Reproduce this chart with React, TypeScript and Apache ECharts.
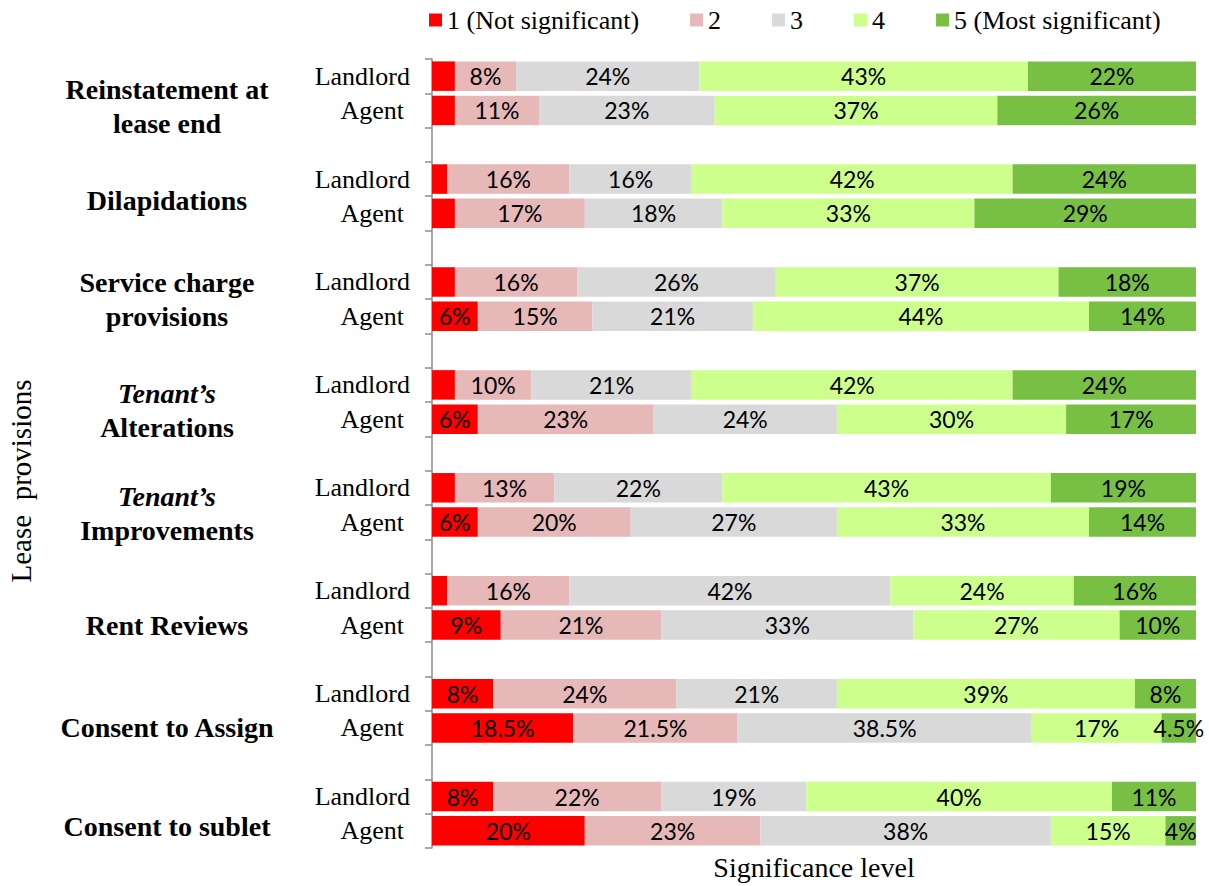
import React, { useEffect, useRef } from "react";
import * as echarts from "echarts";

// Provision groups (top to bottom)
const groups = [
  "Reinstatement at lease end",
  "Dilapidations",
  "Service charge provisions",
  "Tenant's Alterations",
  "Tenant's Improvements",
  "Rent Reviews",
  "Consent to Assign",
  "Consent to sublet",
];

const levelNames = [
  "1 (Not significant)",
  "2",
  "3",
  "4",
  "5 (Most significant)",
];

// Percentages per significance level, one value per group (Landlord rows)
const landlordLevel1 = [3, 2, 3, 3, 3, 2, 8, 8];
const landlordLevel2 = [8, 16, 16, 10, 13, 16, 24, 22];
const landlordLevel3 = [24, 16, 26, 21, 22, 42, 21, 19];
const landlordLevel4 = [43, 42, 37, 42, 43, 24, 39, 40];
const landlordLevel5 = [22, 24, 18, 24, 19, 16, 8, 11];

// Agent rows
const agentLevel1 = [3, 3, 6, 6, 6, 9, 18.5, 20];
const agentLevel2 = [11, 17, 15, 23, 20, 21, 21.5, 23];
const agentLevel3 = [23, 18, 21, 24, 27, 33, 38.5, 38];
const agentLevel4 = [37, 33, 44, 30, 33, 27, 17, 15];
const agentLevel5 = [26, 29, 14, 17, 14, 10, 4.5, 4];

const colors = ["#FF0000", "#E6B9B8", "#D9D9D9", "#CCFF8C", "#77C043"];

// layout helpers (positions of the group captions on the row scale)
const groupLabelPos = [0.875, 3.625, 6.5, 9.75, 12.75, 16, 19, 21.875];

const landlordLevels = [landlordLevel1, landlordLevel2, landlordLevel3, landlordLevel4, landlordLevel5];
const agentLevels = [agentLevel1, agentLevel2, agentLevel3, agentLevel4, agentLevel5];

const SERIF = "Liberation Serif";

function groupCaption(name: string): string {
  if (name.startsWith("Tenant's ")) {
    return "{i|Tenant\u2019s}\n{b|" + name.slice(9) + "}";
  }
  if (name === "Reinstatement at lease end") return "{b|Reinstatement at}\n{b|lease end}";
  if (name === "Service charge provisions") return "{b|Service charge}\n{b|provisions}";
  return "{b|" + name + "}";
}

export default function App() {
  const ref = useRef<HTMLDivElement>(null);

  useEffect(() => {
    if (!ref.current) return;
    const chart = echarts.init(ref.current, null, { renderer: "svg" });

    const categories: string[] = [];
    groups.forEach((g, gi) => {
      categories.push(g + "|Landlord");
      categories.push(g + "|Agent");
      if (gi < groups.length - 1) categories.push(g + "|gap");
    });

    const series = levelNames.map((name, li) => {
      const data: (number | string)[] = [];
      groups.forEach((_, gi) => {
        data.push(landlordLevels[li][gi]);
        data.push(agentLevels[li][gi]);
        if (gi < groups.length - 1) data.push("-");
      });
      return {
        name,
        type: "bar",
        stack: "total",
        barCategoryGap: "14%",
        itemStyle: { color: colors[li] },
        label: {
          show: true,
          position: "inside",
          color: "#000",
          fontFamily: "Lato",
          fontSize: 23,
          formatter: (p: any) => (typeof p.value === "number" && p.value >= 4 ? p.value + "%" : ""),
        },
        data,
      };
    });

    chart.setOption({
      animation: false,
      backgroundColor: "#ffffff",
      legend: {
        left: 424,
        top: 2,
        itemWidth: 13,
        itemHeight: 13,
        itemGap: 51,
        icon: "rect",
        textStyle: { fontFamily: SERIF, fontSize: 26, color: "#000" },
        data: levelNames,
      },
      grid: { left: 432, right: 13, top: 59, bottom: 34, containLabel: false },
      xAxis: {
        type: "value",
        min: 0,
        max: 100,
        axisLine: { show: false },
        axisTick: { show: false },
        axisLabel: { show: false },
        splitLine: { show: false },
        name: "Significance level",
        nameLocation: "middle",
        nameGap: 5,
        nameTextStyle: { fontFamily: SERIF, fontSize: 28, color: "#000", verticalAlign: "top" },
      },
      yAxis: [
        {
          type: "category",
          inverse: true,
          data: categories,
          axisLine: { show: true, lineStyle: { color: "#8c8c8c", width: 1.5 } },
          axisTick: { show: true, length: 7, lineStyle: { color: "#8c8c8c", width: 1.5 } },
          axisLabel: {
            margin: 22,
            interval: 0,
            color: "#000",
            fontFamily: SERIF,
            fontSize: 26,
            formatter: (v: string) => {
              const part = v.split("|")[1];
              if (part === "Landlord") return "Landlord";
              if (part === "Agent") return "{a|Agent}";
              return "";
            },
            rich: {
              a: { fontFamily: SERIF, fontSize: 26, color: "#000", padding: [0, 6, 0, 0] },
            },
          },
        },
        {
          type: "value",
          inverse: true,
          min: -0.5,
          max: 22.5,
          interval: 0.125,
          position: "left",
          axisLine: { show: false },
          axisTick: { show: false },
          splitLine: { show: false },
          axisLabel: {
            margin: 265,
            align: "center",
            formatter: (v: number) => {
              const gi = groupLabelPos.findIndex((p) => Math.abs(p - v) < 1e-6);
              return gi >= 0 ? groupCaption(groups[gi]) : "";
            },
            rich: {
              b: { fontFamily: SERIF, fontSize: 28, fontWeight: "bold", color: "#000", lineHeight: 34, align: "center" },
              i: { fontFamily: SERIF, fontSize: 28, fontWeight: "bold", fontStyle: "italic", color: "#000", lineHeight: 34, align: "center" },
            },
          },
        },
      ],
      graphic: [
        {
          type: "text",
          x: 21,
          y: 481,
          rotation: Math.PI / 2,
          style: {
            text: "Lease  provisions",
            fontFamily: SERIF,
            fontSize: 29,
            fill: "#000",
            align: "center",
            verticalAlign: "middle",
          },
        },
      ],
      series,
    });

    return () => chart.dispose();
  }, []);

  return (
    <div
      ref={ref}
      style={{ position: "absolute", left: 0, top: 0, width: 1209, height: 886 }}
    />
  );
}
